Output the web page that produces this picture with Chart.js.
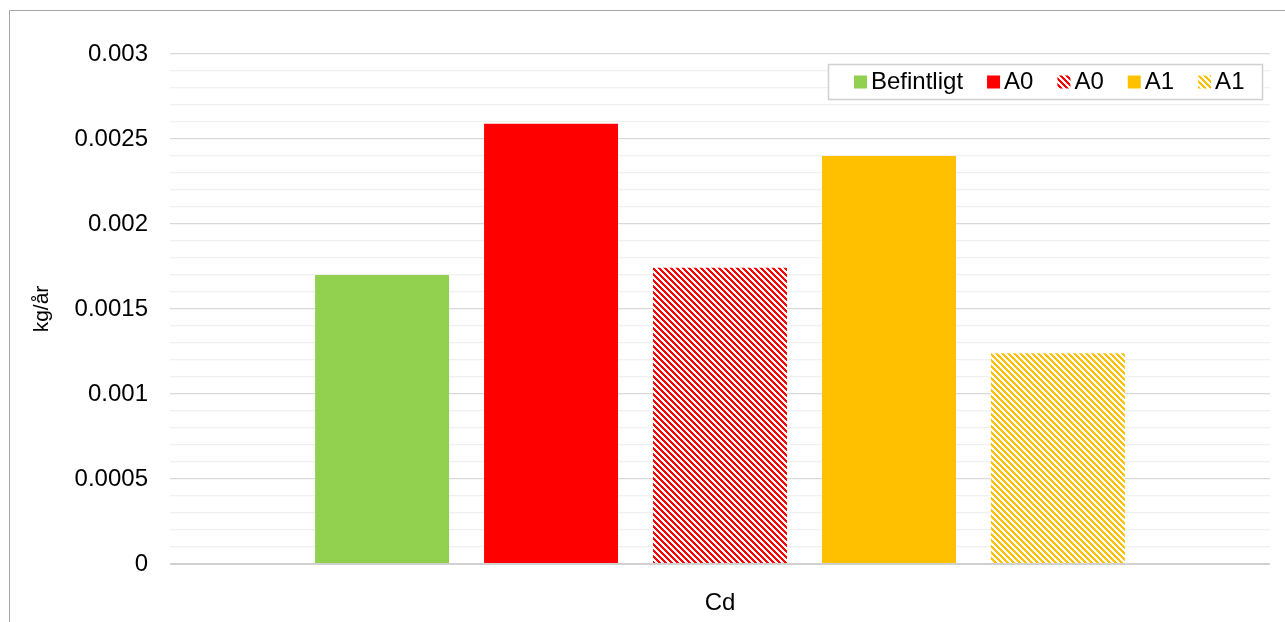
<!DOCTYPE html>
<html>
<head>
<meta charset="utf-8">
<script src="https://cdn.jsdelivr.net/npm/chart.js@4.4.1/dist/chart.umd.min.js"></script>
<style>
  html, body { margin: 0; padding: 0; background: #fff; }
  #wrap { position: relative; width: 1285px; height: 622px; }
  #frame { position: absolute; left: 9px; top: 10px; width: 1290px; height: 640px; border: 1px solid #a6a6a6; box-sizing: border-box; pointer-events: none; }
</style>
</head>
<body>
<div id="wrap">
  <canvas id="myChart" width="1285" height="622"></canvas>
  <div id="frame"></div>
</div>
<script>
let kategorier = ['Cd'];
let serieNamn = ['Befintligt', 'A0', 'A0', 'A1', 'A1'];
let serieVarden = [[0.0017], [0.00259], [0.001742], [0.0024], [0.00124]];
let serieFarg = ['#92d050', '#ff0000', '#ff0000', '#ffc000', '#ffc000'];
let serieRandig = [false, false, true, false, true];
let yMax = 0.003;
let yStegLiten = 0.0001;
let yStegStor = 0.0005;

// randigt mönster (diagonal nedåt)
let skapaRandig = (farg)=>{
    let c = document.createElement('canvas');
    c.width = 6; c.height = 6;
    let ctx = c.getContext('2d');
    ctx.fillStyle = '#ffffff';
    ctx.fillRect(0, 0, 6, 6);
    ctx.fillStyle = farg;
    for(let y = 0; y < 6; y++){
        for(let x = 0; x < 6; x++){
            if(((x - y) % 6 + 6) % 6 < 3){
                ctx.fillRect(x, y, 1, 1);
            }
        }
    }
    return ctx.createPattern(c, 'repeat');
};

let fyllningar = [];
for(let i = 0; i < serieNamn.length; i++){
    fyllningar.push(serieRandig[i] ? skapaRandig(serieFarg[i]) : serieFarg[i]);
}

let datasets = [];
for(let i = 0; i < serieNamn.length; i++){
    datasets.push({
        label: serieNamn[i],
        data: serieVarden[i],
        backgroundColor: fyllningar[i],
        borderWidth: 0,
        barPercentage: 0.793,
        categoryPercentage: 0.768
    });
}

let arMajor = (v)=> Math.abs(v / yStegStor - Math.round(v / yStegStor)) < 1e-6;
let typsnitt = '"Liberation Sans", Arial, sans-serif';

// egen legend i ruta uppe till höger
let legendPlugin = {
    id: 'egenLegend',
    afterDraw(chart){
        let ctx = chart.ctx;
        let boxX = 828, boxY = 64, boxW = 434, boxH = 35;
        ctx.save();
        ctx.fillStyle = '#ffffff';
        ctx.fillRect(boxX, boxY, boxW, boxH);
        ctx.strokeStyle = '#d0d0d0';
        ctx.lineWidth = 1.5;
        ctx.strokeRect(boxX + 0.5, boxY + 0.5, boxW, boxH);
        ctx.font = '24px ' + typsnitt;
        ctx.textBaseline = 'middle';
        ctx.fillStyle = '#000';
        let x = 854;
        let cy = boxY + boxH / 2 + 1;
        for(let i = 0; i < serieNamn.length; i++){
            ctx.fillStyle = fyllningar[i];
            ctx.fillRect(x, cy - 7, 13, 13);
            ctx.fillStyle = '#000';
            ctx.fillText(serieNamn[i], x + 17, cy);
            x += 17 + ctx.measureText(serieNamn[i]).width + 24;
        }
        ctx.restore();
    }
};

new Chart('myChart', {
    type: 'bar',
    data: {
        labels: kategorier,
        datasets: datasets
    },
    options: {
        responsive: false,
        animation: false,
        layout: { padding: { left: 0, top: 54, right: 15, bottom: 0 } },
        plugins: {
            legend: { display: false },
            tooltip: { enabled: false }
        },
        scales: {
            x: {
                grid: { display: false },
                border: { display: false },
                ticks: {
                    color: '#000',
                    padding: 17,
                    font: { family: typsnitt, size: 24 }
                },
                afterFit: (s)=>{ s.height = 58; }
            },
            y: {
                min: 0,
                max: yMax,
                border: { display: false },
                grid: {
                    drawTicks: false,
                    color: (c)=>{
                        if(c.tick.value === 0) return '#d0d0d0';
                        return arMajor(c.tick.value) ? '#d9d9d9' : '#f0f0f0';
                    },
                    lineWidth: (c)=> (c.tick.value === 0 ? 2 : 1.3)
                },
                ticks: {
                    stepSize: yStegLiten,
                    autoSkip: false,
                    color: '#000',
                    padding: 22,
                    font: { family: typsnitt, size: 24 }
                    ,
                    callback: (v)=> arMajor(v) ? Number(v.toFixed(4)).toString() : ''
                },
                title: {
                    display: true,
                    text: 'kg/år',
                    color: '#000',
                    padding: { top: 30, bottom: 0 },
                    font: { family: typsnitt, size: 21 }
                },
                afterFit: (s)=>{ s.width = 170; }
            }
        }
    },
    plugins: [legendPlugin]
});
</script>
</body>
</html>
